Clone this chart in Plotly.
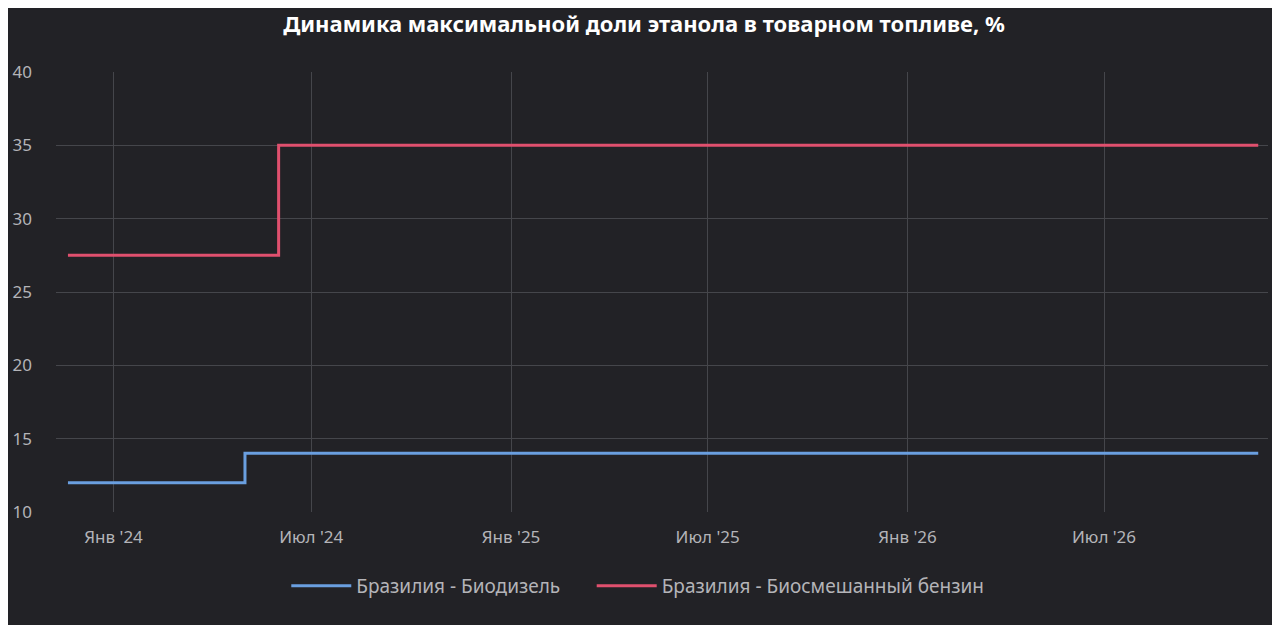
import plotly.graph_objects as go

# точки изменения ставки (значение держится до следующей даты)
diesel_dates = ["2023-11-20", "2024-05-01", "2026-11-20"]
diesel_vals = [12, 14, 14]

gas_dates = ["2023-11-20", "2024-06-01", "2026-11-20"]
gas_vals = [27.5, 35, 35]

tick_dates = ["2024-01-01", "2024-07-01", "2025-01-01", "2025-07-01", "2026-01-01", "2026-07-01"]
tick_text = ["Янв '24", "Июл '24", "Янв '25", "Июл '25", "Янв '26", "Июл '26"]

bg = "#222226"
font = "Noto Sans"

fig = go.Figure()
fig.add_trace(go.Scatter(x=diesel_dates, y=diesel_vals, mode="lines", line_shape="hv",
                         name="Бразилия - Биодизель", legend="legend",
                         line=dict(color="#6a9fe0", width=3)))
fig.add_trace(go.Scatter(x=gas_dates, y=gas_vals, mode="lines", line_shape="hv",
                         name="Бразилия - Биосмешанный бензин", legend="legend2",
                         line=dict(color="#e0506e", width=3)))

leg = dict(orientation="h", xanchor="left", y=-0.168, yanchor="middle",
           font=dict(size=19, color="#b4b4b8"), bgcolor="rgba(0,0,0,0)", itemwidth=60)

# страница добавляет отступ 8px, поэтому фигура чуть меньше окна
fig.update_layout(
    width=1272, height=617,
    paper_bgcolor=bg, plot_bgcolor=bg,
    margin=dict(l=48, r=12, t=64, b=113),
    font=dict(family=font, color="#b4b4b8", size=17),
    title=dict(text="<b>Динамика максимальной доли этанола в товарном топливе, %</b>",
               x=0.5, xanchor="center", y=1 - 16 / 617, yanchor="middle",
               font=dict(family=font, size=22, color="#ffffff")),
    xaxis=dict(range=["2023-11-09", "2026-11-29"], tickvals=tick_dates, ticktext=tick_text,
               showgrid=True, gridcolor="#45464b", gridwidth=1, zeroline=False,
               showline=False, ticks="", ticklabelstandoff=13, automargin=False),
    yaxis=dict(range=[10, 40], dtick=5, showgrid=True, gridcolor="#45464b", gridwidth=1,
               zeroline=False, showline=False, ticks="", ticklabelstandoff=23,
               automargin=False),
    legend=dict(leg, x=0.19),
    legend2=dict(leg, x=0.442),
    showlegend=True,
)

fig.write_html("out.html")
